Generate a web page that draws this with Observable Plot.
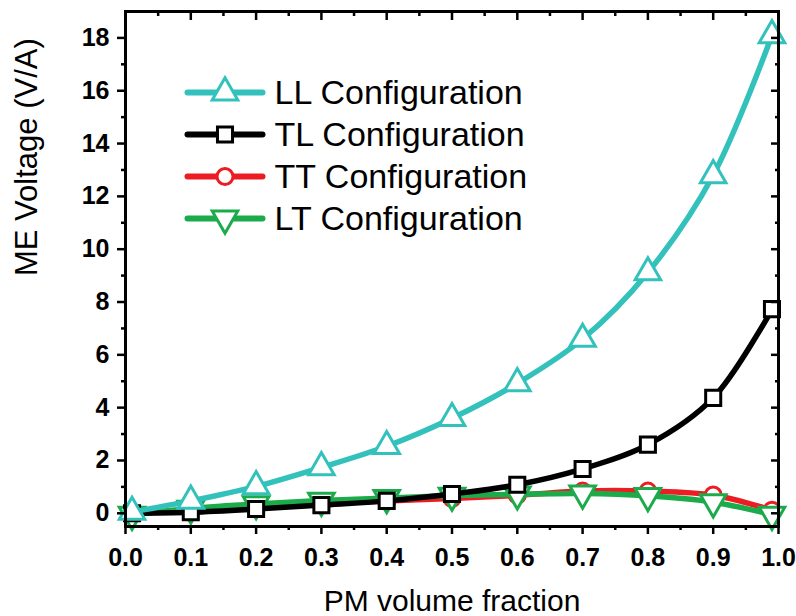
<!DOCTYPE html>
<html><head><meta charset="utf-8">
<script src="https://cdn.jsdelivr.net/npm/d3@7"></script>
<script src="https://cdn.jsdelivr.net/npm/@observablehq/plot@0.6"></script>
<style>html,body{margin:0;padding:0;background:#fff}svg{display:block}</style>
</head><body><div id="chart"></div>
<script>
// ---- data ----
const fractions = [0.01, 0.1, 0.2, 0.3, 0.4, 0.5, 0.6, 0.7, 0.8, 0.9, 0.99];
const llValues = [0.05, 0.47, 1.02, 1.74, 2.54, 3.6, 4.92, 6.6, 9.12, 12.8, 18.1];
const tlValues = [0.0, 0.04, 0.16, 0.31, 0.47, 0.73, 1.08, 1.68, 2.6, 4.37, 7.73];
const ttValues = [0.0, 0.1, 0.22, 0.36, 0.47, 0.56, 0.68, 0.84, 0.84, 0.69, 0.12];
const ltValues = [-0.05, 0.18, 0.35, 0.48, 0.58, 0.67, 0.72, 0.75, 0.66, 0.42, -0.05];
const seriesNames = ["LL Configuration", "TL Configuration", "TT Configuration", "LT Configuration"];
const xTicks = [0.0, 0.1, 0.2, 0.3, 0.4, 0.5, 0.6, 0.7, 0.8, 0.9, 1.0];
const xMinorTicks = [0.05, 0.15, 0.25, 0.35, 0.45, 0.55, 0.65, 0.75, 0.85, 0.95];
const yTicks = [0, 2, 4, 6, 8, 10, 12, 14, 16, 18];
const yMinorTicks = [1, 3, 5, 7, 9, 11, 13, 15, 17];
const xTitle = "PM volume fraction";
const yTitle = "ME Voltage (V/A)";

// ---- styles ----
const styles = {
  "LL Configuration": {color: "#33c1bc", symbol: "triangle", r: 9.5, rotate: 0},
  "TL Configuration": {color: "#000000", symbol: "square", r: 8.5, rotate: 0},
  "TT Configuration": {color: "#ec1c24", symbol: "circle", r: 8, rotate: 0},
  "LT Configuration": {color: "#1cab4b", symbol: "triangle", r: 9.5, rotate: 180}
};
const valuesByName = {
  "LL Configuration": llValues,
  "TL Configuration": tlValues,
  "TT Configuration": ttValues,
  "LT Configuration": ltValues
};
const drawOrder = ["TT Configuration", "LT Configuration", "TL Configuration", "LL Configuration"];

const font = "'Liberation Sans', Arial, Helvetica, sans-serif";
const marks = [];

for (const name of drawOrder) {
  const st = styles[name];
  const rows = fractions.map((f, i) => ({x: f, y: valuesByName[name][i]}));
  marks.push(Plot.line(rows, {x: "x", y: "y", stroke: st.color, strokeWidth: 5.5, curve: "catmull-rom"}));
  marks.push(Plot.dot(rows, {x: "x", y: "y", symbol: st.symbol, r: st.r, rotate: st.rotate,
    stroke: st.color, fill: "white", strokeWidth: 3}));
}

// axes
const tickStyle = {fontSize: 25, fontWeight: "bold", strokeWidth: 2.5, label: null};
marks.push(Plot.axisY(yTicks, {...tickStyle, anchor: "left", tickSize: 8, tickPadding: 8, tickFormat: d => String(d)}));
marks.push(Plot.axisY(yMinorTicks, {anchor: "left", tickSize: 4, strokeWidth: 2.5, tickFormat: () => "", label: null}));
marks.push(Plot.axisY(yTicks, {anchor: "right", tickSize: -8, strokeWidth: 2.5, tickFormat: () => "", label: null}));
marks.push(Plot.axisY(yMinorTicks, {anchor: "right", tickSize: -4, strokeWidth: 2.5, tickFormat: () => "", label: null}));
marks.push(Plot.axisX(xTicks, {...tickStyle, anchor: "bottom", tickSize: 8, tickPadding: 14, tickFormat: d => d.toFixed(1)}));
marks.push(Plot.axisX(xMinorTicks, {anchor: "bottom", tickSize: 4, strokeWidth: 2.5, tickFormat: () => "", label: null}));
marks.push(Plot.axisX(xTicks, {anchor: "top", tickSize: -8, strokeWidth: 2.5, tickFormat: () => "", label: null}));
marks.push(Plot.axisX(xMinorTicks, {anchor: "top", tickSize: -4, strokeWidth: 2.5, tickFormat: () => "", label: null}));
marks.push(Plot.frame({stroke: "black", strokeWidth: 3}));

// axis titles
marks.push(Plot.text([xTitle], {x: null, y: null, text: d => d, frameAnchor: "bottom", dy: 75,
  fontSize: 30, lineAnchor: "middle", fill: "black"}));
marks.push(Plot.text([yTitle], {x: null, y: null, text: d => d, frameAnchor: "left", dx: -98, dy: 7,
  rotate: -90, fontSize: 31, lineAnchor: "middle", fill: "black"}));

// legend
const lineShape = {draw(context, l) { context.moveTo(0, 0); context.lineTo(0, -l); }};
seriesNames.forEach((name, i) => {
  const st = styles[name];
  const dy = 81 + 42 * i;
  marks.push(Plot.vector([name], {x: null, y: null, frameAnchor: "top-left", dx: 62, dy,
    rotate: 90, length: 75, anchor: "start", shape: lineShape, stroke: st.color, strokeWidth: 6}));
  marks.push(Plot.dot([name], {x: null, y: null, frameAnchor: "top-left", dx: 99.5, dy,
    symbol: st.symbol, r: st.r, rotate: st.rotate, stroke: st.color, fill: "white", strokeWidth: 3}));
  marks.push(Plot.text([name], {x: null, y: null, text: d => d, frameAnchor: "top-left", dx: 149, dy: dy + 1,
    textAnchor: "start", lineAnchor: "middle", fontSize: 34, fill: "black"}));
});

const chart = Plot.plot({
  width: 796,
  height: 616,
  marginLeft: 125,
  marginRight: 18,
  marginTop: 11,
  marginBottom: 90,
  style: {fontFamily: font, color: "black", background: "white", overflow: "visible"},
  x: {domain: [0, 1]},
  y: {domain: [-0.5, 19]},
  marks
});
document.getElementById("chart").appendChild(chart);
</script>
</body></html>
